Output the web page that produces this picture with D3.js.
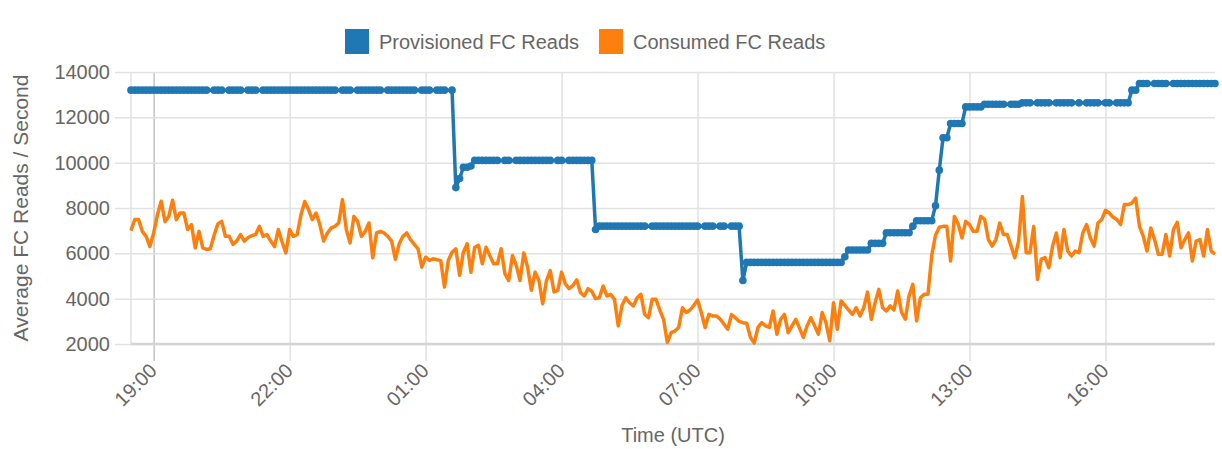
<!DOCTYPE html>
<html>
<head>
<meta charset="utf-8">
<script src="https://cdn.jsdelivr.net/npm/d3@7"></script>
<style>
  body { margin: 0; background: #fff; }
  svg { display: block; font-family: "Liberation Sans", Arial, Helvetica, sans-serif; }
</style>
</head>
<body>
<svg id="chart" width="1222" height="449"></svg>
<script>
// 5 minute samples, first one at 18:30 UTC
const startTime = "18:30";
const stepMinutes = 5;

const tickLabels = ["19:00", "22:00", "01:00", "04:00", "07:00", "10:00", "13:00", "16:00"];
const yTicks = [2000, 4000, 6000, 8000, 10000, 12000, 14000];

const seriesNames = ["Provisioned FC Reads", "Consumed FC Reads"];
const seriesColors = ["#1f77b4", "#ff7f0e"];

// null = no sample at that time
const provisioned = [
  13200, 13200, 13200, 13200, 13200, 13200, 13200, 13200, 13200, 13200,
  13200, 13200, 13200, 13200, 13200, 13200, 13200, 13200, 13200, 13200,
  13200, null, 13200, 13200, 13200, null, 13200, 13200, 13200, 13200,
  null, 13200, 13200, 13200, null, 13200, 13200, 13200, 13200, 13200,
  13200, 13200, 13200, 13200, 13200, 13200, 13200, 13200, 13200, 13200,
  13200, 13200, 13200, 13200, 13200, null, 13200, 13200, 13200, null,
  13200, 13200, 13200, 13200, 13200, 13200, 13200, null, 13200, 13200,
  13200, 13200, 13200, 13200, 13200, 13200, null, 13200, 13200, 13200,
  null, 13200, 13200, 13200, null, 13200, 8900, 9300, 9800, 9800,
  9850, 10100, 10100, 10100, 10100, 10100, 10100, 10100, null, 10100,
  10100, null, 10100, 10100, 10100, 10100, 10100, 10100, 10100, 10100,
  10100, 10100, null, 10100, 10100, null, 10100, 10100, 10100, 10100,
  10100, 10100, 10100, 7050, 7200, 7200, 7200, 7200, 7200, 7200,
  7200, 7200, 7200, 7200, 7200, 7200, 7200, null, 7200, 7200,
  7200, 7200, 7200, 7200, 7200, 7200, 7200, 7200, 7200, 7200,
  7200, null, 7200, 7200, 7200, null, 7200, 7200, null, 7200,
  7200, 7200, 4800, 5600, 5600, 5600, 5600, 5600, 5600, 5600,
  5600, 5600, 5600, 5600, 5600, 5600, 5600, 5600, 5600, 5600,
  5600, 5600, 5600, 5600, 5600, 5600, 5600, 5600, 5600, 5850,
  6150, 6150, 6150, 6150, 6150, 6150, 6440, 6440, 6440, 6440,
  6910, 6910, 6910, 6910, 6910, 6910, 6910, 7200, 7440, 7440,
  7440, 7440, 7440, 8100, 9670, 11100, 11100, 11730, 11730, 11730,
  11730, 12460, 12460, 12460, 12460, 12460, 12580, 12580, 12580, 12580,
  12580, 12580, null, 12580, 12580, 12580, 12640, 12640, 12640, null,
  12640, 12640, 12640, 12640, null, 12640, 12640, 12640, 12640, 12640,
  null, 12640, null, 12640, 12640, 12640, 12640, null, 12640, 12640,
  null, 12640, 12640, 12640, 12640, 13200, 13200, 13490, 13490, 13490,
  null, 13490, 13490, 13490, 13490, null, 13490, 13490, 13490, 13490,
  13490, 13490, 13490, 13490, 13490, 13490, 13490, 13490
];

const consumed = [
  7000, 7490, 7490, 6970, 6750, 6300, 6900, 7700, 8300, 7400,
  7630, 8340, 7490, 7780, 7780, 7050, 7270, 6240, 6970, 6240,
  6170, 6200, 6800, 7300, 7410, 6750, 6750, 6390, 6550, 6830,
  6540, 6700, 6780, 6830, 7190, 6750, 6830, 6540, 6300, 7050,
  6500, 6020, 7050, 6750, 6830, 7700, 8290, 7930, 7490, 7780,
  7270, 6540, 6900, 7120, 7190, 7340, 8370, 7050, 6460, 7630,
  7410, 6750, 6970, 7340, 5800, 6900, 6970, 6900, 6750, 6540,
  5730, 6420, 6750, 6900, 6600, 6400, 6200, 5390, 5830, 5690,
  5760, 5720, 5680, 4510, 5680, 6050, 6200, 5030, 6050, 6420,
  5170, 6270, 6350, 5540, 6270, 5900, 5540, 5540, 6200, 5100,
  4800, 5900, 5470, 4800, 6020, 5390, 4370, 5170, 4800, 3780,
  4800, 5240, 4300, 4370, 5170, 4650, 4440, 4580, 4830, 4270,
  4120, 4440, 4330, 4000, 4040, 4560, 4120, 4190, 3970, 2800,
  3700, 4040, 3820, 3680, 4040, 4190, 3310, 3160, 3970, 3970,
  3500, 3090, 2070, 2500, 2570, 2730, 3600, 3390, 3500, 3700,
  3940, 3390, 2730, 3310, 3240, 3240, 3100, 2870, 2650, 3300,
  3160, 3000, 2940, 2920, 2300, 2040, 2730, 2940, 2800, 2730,
  3460, 2430, 3090, 3310, 2500, 2800, 3090, 2700, 2290, 2800,
  3160, 2800, 2430, 3390, 2940, 2140, 3820, 2650, 3900, 3700,
  3500, 3310, 3600, 3240, 3600, 4290, 3090, 3820, 4410, 3600,
  3460, 3680, 3500, 4340, 3400, 3090, 4120, 4630, 3020, 4040,
  4190, 4190, 5900, 6800, 7150, 7190, 7190, 5660, 7630, 7300,
  6680, 7410, 7270, 6970, 6970, 7630, 7500, 6610, 6320, 6610,
  7340, 6830, 6830, 6320, 5810, 6540, 8510, 6030, 6030, 7190,
  4850, 5740, 5810, 5370, 6320, 6900, 5810, 7050, 6100, 5880,
  6100, 6030, 6900, 7270, 6680, 6320, 7340, 7490, 7900, 7780,
  7600, 7490, 7270, 8150, 8150, 8220, 8440, 7190, 6760, 6100,
  7120, 6610, 5960, 5960, 6830, 5880, 7050, 7370, 6250, 6610,
  6900, 5660, 6540, 6610, 5880, 7050, 6100, 5960
];

const width = 1222;
const height = 449;
const margin = { top: 72, right: 7, bottom: 105, left: 131 };
const textColor = "#666";

const svg = d3.select("#chart");

const parseHM = d3.timeParse("%H:%M");
const start = parseHM(startTime);
const times = consumed.map((d, i) => d3.timeMinute.offset(start, i * stepMinutes));

// tick labels wrap past midnight, so place each one after the start time
const tickDates = tickLabels.map((t) => {
  let d = parseHM(t);
  if (d < start) d = d3.timeDay.offset(d, 1);
  return d;
});

const x = d3
  .scaleTime()
  .domain(d3.extent(times))
  .range([margin.left, width - margin.right]);

const y = d3
  .scaleLinear()
  .domain([yTicks[0], yTicks[yTicks.length - 1]])
  .range([height - margin.bottom, margin.top]);

const plotBottom = height - margin.bottom;

// x axis: grid lines run from the top of the plot down past the bottom edge
const xAxis = (g) =>
  g
    .attr("transform", `translate(0,${plotBottom + 17})`)
    .call(
      d3
        .axisBottom(x)
        .tickValues(tickDates)
        .tickFormat(d3.timeFormat("%H:%M"))
        .tickSizeInner(-(plotBottom + 17 - margin.top))
        .tickSizeOuter(0)
    )
    .call((g) => g.select(".domain").remove())
    .call((g) =>
      g
        .selectAll(".tick line")
        .attr("stroke", (d, i) => (i === 0 ? "#c4c4c4" : "#e2e2e2"))
        .attr("stroke-width", 1.5)
    )
    .call((g) =>
      g
        .selectAll(".tick text")
        .attr("fill", textColor)
        .attr("font-size", 20)
        .attr("text-anchor", "end")
        .attr("y", 0)
        .attr("dy", 0)
        .attr("transform", "translate(4,11) rotate(-45)")
    );

// y axis: grid lines start a little left of the plot
const yAxis = (g) =>
  g
    .attr("transform", `translate(${margin.left - 16},0)`)
    .call(
      d3
        .axisLeft(y)
        .tickValues(yTicks)
        .tickFormat(d3.format("d"))
        .tickSizeInner(-(width - margin.right - margin.left + 16))
        .tickSizeOuter(0)
        .tickPadding(5)
    )
    .call((g) => g.select(".domain").remove())
    .call((g) =>
      g.selectAll(".tick line").attr("stroke", "#e2e2e2").attr("stroke-width", 1.5)
    )
    .call((g) =>
      g.selectAll(".tick text").attr("fill", textColor).attr("font-size", 20)
    );

svg.append("g").attr("class", "x-axis").call(xAxis);
svg.append("g").attr("class", "y-axis").call(yAxis);

// plot frame: left edge and the heavier bottom line
svg
  .append("line")
  .attr("x1", margin.left)
  .attr("x2", margin.left)
  .attr("y1", margin.top)
  .attr("y2", plotBottom)
  .attr("stroke", "#e2e2e2")
  .attr("stroke-width", 1.5);
svg
  .append("line")
  .attr("x1", margin.left)
  .attr("x2", width - margin.right)
  .attr("y1", plotBottom)
  .attr("y2", plotBottom)
  .attr("stroke", "#d4d4d4")
  .attr("stroke-width", 2.5);

// axis titles
svg
  .append("text")
  .attr("x", (margin.left + width - margin.right) / 2)
  .attr("y", 442)
  .attr("text-anchor", "middle")
  .attr("fill", textColor)
  .attr("font-size", 20)
  .text("Time (UTC)");

svg
  .append("text")
  .attr("transform", `translate(28,${(margin.top + plotBottom) / 2}) rotate(-90)`)
  .attr("text-anchor", "middle")
  .attr("fill", textColor)
  .attr("font-size", 21)
  .text("Average FC Reads / Second");

// series
const provData = provisioned
  .map((v, i) => ({ t: times[i], v }))
  .filter((d) => d.v !== null);
const consData = consumed.map((v, i) => ({ t: times[i], v }));

const line = d3
  .line()
  .x((d) => x(d.t))
  .y((d) => y(d.v));

const plot = svg.append("g").attr("class", "plot-area");

plot
  .append("path")
  .datum(provData)
  .attr("fill", "none")
  .attr("stroke", seriesColors[0])
  .attr("stroke-width", 3.5)
  .attr("stroke-linejoin", "round")
  .attr("d", line);

plot
  .selectAll(".dot")
  .data(provData)
  .join("circle")
  .attr("class", "dot")
  .attr("cx", (d) => x(d.t))
  .attr("cy", (d) => y(d.v))
  .attr("r", 3.8)
  .attr("fill", seriesColors[0]);

plot
  .append("path")
  .datum(consData)
  .attr("fill", "none")
  .attr("stroke", seriesColors[1])
  .attr("stroke-width", 3.5)
  .attr("stroke-linejoin", "round")
  .attr("d", line);

// legend
const legendX = [345, 599];
const legend = svg
  .append("g")
  .selectAll("g")
  .data(seriesNames)
  .join("g")
  .attr("transform", (d, i) => `translate(${legendX[i]},29)`);

legend
  .append("rect")
  .attr("width", 24)
  .attr("height", 25)
  .attr("fill", (d, i) => seriesColors[i]);

legend
  .append("text")
  .attr("x", 34)
  .attr("y", 19.5)
  .attr("fill", textColor)
  .attr("font-size", 20)
  .text((d) => d);
</script>
</body>
</html>
